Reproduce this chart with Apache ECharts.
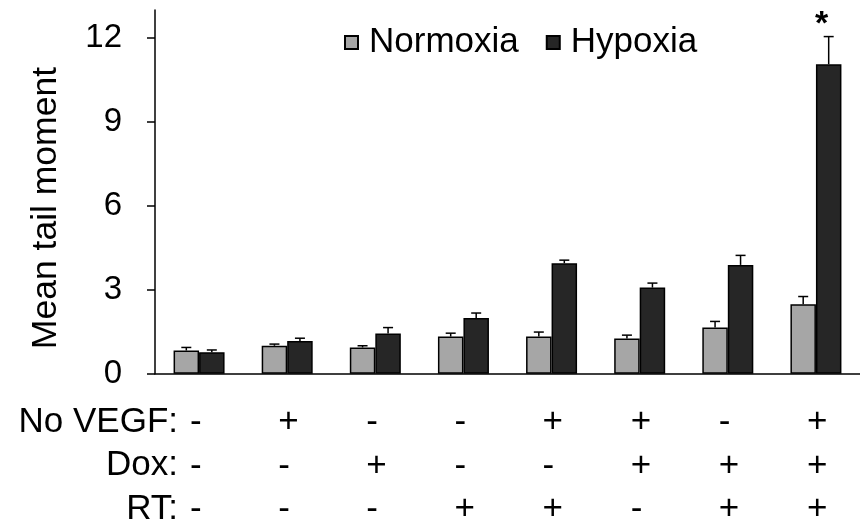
<!DOCTYPE html>
<html>
<head>
<meta charset="utf-8">
<script src="https://cdn.jsdelivr.net/npm/echarts@6/dist/echarts.min.js"></script>
<style>html,body{margin:0;padding:0;background:#fff;}#chart{width:860px;height:527px;}</style>
</head>
<body>
<div id="chart"></div>
<script>
// ---- data ----
const categories = ['c1','c2','c3','c4','c5','c6','c7','c8'];
const noVEGF = ['-','+','-','-','+','+','-','+'];
const dox    = ['-','-','+','-','-','+','+','+'];
const rt     = ['-','-','-','+','+','-','+','+'];
const rowHeaders = ['No VEGF:','Dox:','RT:'];
const normoxia    = [0.83, 1.00, 0.94, 1.33, 1.33, 1.26, 1.65, 2.48];
const normoxiaErr = [0.11, 0.06, 0.06, 0.12, 0.16, 0.12, 0.22, 0.28];
const hypoxia     = [0.77, 1.17, 1.44, 1.99, 3.95, 3.08, 3.89, 11.06];
const hypoxiaErr  = [0.08, 0.10, 0.21, 0.18, 0.11, 0.16, 0.34, 0.99];
const hypoxiaMarks = ['','','','','','','','*'];
const yTicks = [0, 3, 6, 9, 12];
const yTitle = 'Mean tail moment';

// ---- style ----
const FONT = '"Liberation Sans", Arial, sans-serif';
const BAR_W = 25.5;
const CAP = 5;

function errRender(side, marks) {
  return function (params, api) {
    const i = api.value(0), v = api.value(1), e = api.value(2);
    const c0 = api.coord([i, v]);
    const c1 = api.coord([i, v + e]);
    const x = c0[0] + side * BAR_W / 2;
    const ls = { stroke: '#000', lineWidth: 1.5 };
    const children = [
      { type: 'line', shape: { x1: x, y1: c0[1], x2: x, y2: c1[1] }, style: ls },
      { type: 'line', shape: { x1: x - CAP, y1: c1[1], x2: x + CAP, y2: c1[1] }, style: ls }
    ];
    if (marks && marks[i]) {
      children.push({ type: 'text', style: { text: marks[i], x: x - 7, y: c1[1] + 5, align: 'center', verticalAlign: 'bottom', font: 'bold 34px ' + FONT, fill: '#000' } });
    }
    return { type: 'group', children };
  };
}

const chart = echarts.init(document.getElementById('chart'));
chart.setOption({
  animation: false,
  backgroundColor: '#fff',
  grid: { left: 155, top: 10, width: 707, bottom: 153, containLabel: false },
  legend: {
    left: 339, top: 20,
    icon: 'rect', itemWidth: 13, itemHeight: 13, itemGap: 27,
    data: ['Normoxia', 'Hypoxia'],
    textStyle: { fontFamily: FONT, fontSize: 35, color: '#000', padding: [0, 0, 0, 6] }
  },
  xAxis: {
    type: 'category', data: categories,
    axisLine: { lineStyle: { color: '#000', width: 1.5 } },
    axisTick: { length: 8, lineStyle: { color: '#000', width: 1.5 } },
    axisLabel: {
      interval: 0, margin: 27, align: 'center',
      formatter: function (val, idx) {
        return '{s|' + noVEGF[idx] + '}\n{s|' + dox[idx] + '}\n{s|' + rt[idx] + '}';
      },
      rich: { s: { width: 18, align: 'left', fontFamily: FONT, fontSize: 35, color: '#000', lineHeight: 43.5 } }
    }
  },
  yAxis: {
    type: 'value', min: 0, max: 13, interval: 3,
    splitLine: { show: false },
    axisLine: { show: true, lineStyle: { color: '#000', width: 1.5 } },
    axisTick: { show: true, length: 8, customValues: yTicks, lineStyle: { color: '#000', width: 1.5 } },
    axisLabel: { customValues: yTicks, margin: 33, fontFamily: FONT, fontSize: 33, color: '#000' }
  },
  graphic: [
    { type: 'text', left: 28, top: 67, rotation: Math.PI / 2, style: { text: yTitle, font: '35.5px ' + FONT, fill: '#000' }, silent: true },
  ].concat(rowHeaders.map((h, k) => ({
    type: 'text', silent: true,
    style: { text: h, x: 178, y: 422 + k * 43.5, align: 'right', verticalAlign: 'middle', font: '35px ' + FONT, fill: '#000' }
  }))),
  series: [
    { name: 'Normoxia', type: 'bar', data: normoxia, barWidth: BAR_W, barGap: '0%',
      itemStyle: { color: '#a6a6a6', borderColor: '#000', borderWidth: 1.5 } },
    { name: 'Hypoxia', type: 'bar', data: hypoxia, barWidth: BAR_W, barGap: '0%',
      itemStyle: { color: '#262626', borderColor: '#000', borderWidth: 1.5 } },
    { type: 'custom', renderItem: errRender(-1, null), z: 5,
      data: normoxia.map((v, i) => [i, v, normoxiaErr[i]]) },
    { type: 'custom', renderItem: errRender(1, hypoxiaMarks), z: 5,
      data: hypoxia.map((v, i) => [i, v, hypoxiaErr[i]]) }
  ]
});
</script>
</body>
</html>
